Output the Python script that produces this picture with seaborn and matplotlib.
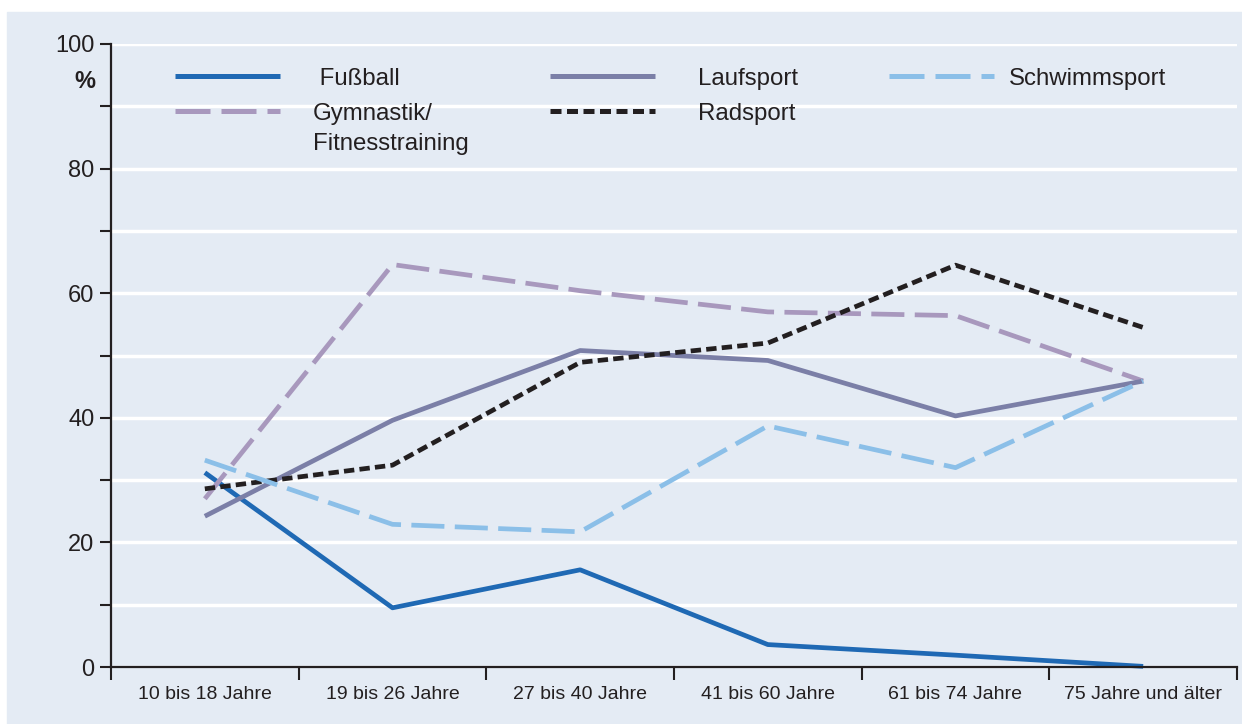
import matplotlib
matplotlib.use('Agg')
import matplotlib.pyplot as plt
import numpy as np
import pandas as pd
import seaborn as sns
from matplotlib.patches import Rectangle

# Daten
altersgruppen = ['10 bis 18 Jahre', '19 bis 26 Jahre', '27 bis 40 Jahre',
                 '41 bis 60 Jahre', '61 bis 74 Jahre', '75 Jahre und älter']
sportarten = ['Fußball', 'Gymnastik/Fitnesstraining', 'Laufsport', 'Radsport', 'Schwimmsport']
fussball = [31.2, 9.5, 15.6, 3.6, 1.9, 0.1]
gymnastik = [27.0, 64.6, 60.4, 57.0, 56.4, 45.9]
laufsport = [24.2, 39.6, 50.8, 49.2, 40.3, 45.9]
radsport = [28.6, 32.4, 48.9, 52.0, 64.5, 54.5]
schwimmsport = [33.2, 22.9, 21.7, 38.7, 32.0, 45.9]
legend_labels = [' Fußball', 'Gymnastik/', 'Laufsport', 'Radsport', 'Schwimmsport']
y_ticks = [0, 20, 40, 60, 80, 100]

df = pd.DataFrame({
    'Alter': altersgruppen * 5,
    'Anteil': fussball + gymnastik + laufsport + radsport + schwimmsport,
    'Sportart': np.repeat(sportarten, len(altersgruppen)),
})

bg = '#e4ebf4'
dark = '#231f20'
farben = dict(zip(sportarten, ['#1f69b4', '#a898bd', '#7b7fa7', dark, '#8bbfe8']))
striche = dict(zip(sportarten, ['', (7, 2.2), '', (2.2, 1.1), (7, 2.2)]))

sns.set_style('white')
plt.rcParams['font.family'] = ['Liberation Sans', 'DejaVu Sans']
plt.rcParams['text.color'] = dark

fig = plt.figure(figsize=(12.42, 7.24), dpi=100)
fig.patches.append(Rectangle((7 / 1242, 0), 1, 1 - 12 / 724, transform=fig.transFigure,
                             color=bg, zorder=-10))
ax = fig.add_axes([111 / 1242, 1 - 667 / 724, 1126 / 1242, 623 / 724])
ax.set_facecolor(bg)

sns.lineplot(data=df, x='Alter', y='Anteil', hue='Sportart', style='Sportart',
             palette=farben, dashes=striche, hue_order=sportarten, style_order=sportarten,
             lw=3.4, sort=False, ax=ax)
for line in ax.lines:
    line.set_clip_on(False)
    line.set_solid_capstyle('butt')
    line.set_dash_capstyle('butt')

ax.set_xlim(-0.5, 5.5)
ax.set_ylim(0, 100)
ax.set_yticks(y_ticks)
ax.set_yticks(range(10, 100, 20), minor=True)
ax.set_xticks(range(len(altersgruppen)))
ax.set_xticklabels(altersgruppen, fontsize=14)
ax.set_xticks(np.arange(-0.5, 6, 1), minor=True)
ax.yaxis.grid(True, which='both', color='white', lw=2.5)
ax.set_axisbelow(True)
ax.set_xlabel('')
ax.set_ylabel('')

for s in ['top', 'right']:
    ax.spines[s].set_visible(False)
for s in ['left', 'bottom']:
    ax.spines[s].set_color(dark)
    ax.spines[s].set_linewidth(1.6)

ax.tick_params(axis='y', which='both', left=True, length=8, width=1.5, color=dark, pad=4,
               labelsize=17, labelcolor=dark)
ax.tick_params(axis='x', which='major', bottom=True, length=0, pad=14, labelcolor=dark)
ax.tick_params(axis='x', which='minor', bottom=True, length=9, width=1.5, color=dark)

ax.text(-0.023, 94.0, '%', transform=ax.get_yaxis_transform(), ha='center', va='center',
        fontsize=17, fontweight='bold')

# Legende in drei Spalten, jede als eigene Legende
handles, _ = ax.get_legend_handles_labels()
ax.get_legend().remove()
spalten = [([0, 1], 0.057, 1.37), ([2, 3], 0.390, 1.8), ([4], 0.691, 0.62)]
legs = []
for idx, x0, pad in spalten:
    leg = ax.legend([handles[i] for i in idx], [legend_labels[i] for i in idx],
                    loc='upper left', bbox_to_anchor=(x0, 0.962), frameon=False,
                    fontsize=17.3, handlelength=4.37, handletextpad=pad,
                    labelspacing=0.55, borderpad=0, borderaxespad=0)
    for h in leg.legend_handles:
        h.set_linewidth(3.6)
    legs.append(leg)
for leg in legs[:-1]:
    ax.add_artist(leg)

ax.annotate('Fitnesstraining', xy=(0, 0), xycoords=legs[0].get_texts()[1], va='top',
            ha='left', fontsize=17.3, zorder=10, xytext=(0, -5.5), textcoords='offset points')

fig.savefig('out.png', dpi=100)
